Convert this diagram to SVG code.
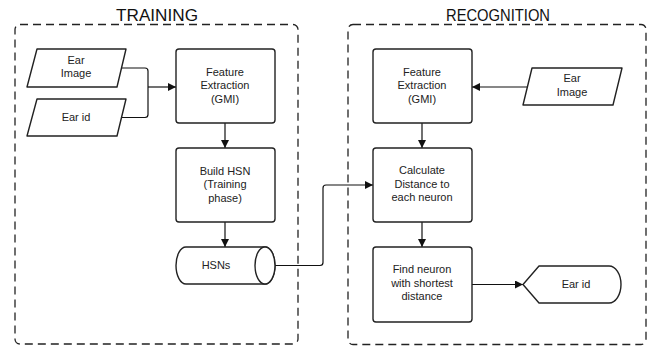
<svg xmlns="http://www.w3.org/2000/svg" width="653" height="347" viewBox="0 0 653 347">
  <style>
    .frame { fill: none; stroke: #222; stroke-width: 1.3; stroke-dasharray: 8 5; }
    .title { font-family: "Liberation Sans", Arial, sans-serif; font-size: 16px; fill: #111; text-anchor: middle; }
    .node { fill: #fff; stroke: #222; stroke-width: 1.4; stroke-linejoin: round; }
    .label { font-family: "Liberation Sans", Arial, sans-serif; font-size: 11px; fill: #222; text-anchor: middle; }
    .edge { fill: none; stroke: #111; stroke-width: 1.2; }
  </style>
  <defs>
    <marker id="arrow" viewBox="0 0 10 10" refX="10" refY="5" markerWidth="8" markerHeight="8" markerUnits="userSpaceOnUse" orient="auto">
      <path d="M0,0 L10,5 L0,10 Z" fill="#111"/>
    </marker>
  </defs>
  <rect width="653" height="347" fill="#fff"/>

  <!-- swimlane frames -->
  <g id="training-frame">
    <rect class="frame" x="15" y="24.5" width="283" height="319.5" rx="5"/>
    <text class="title" x="157" y="21" textLength="82" lengthAdjust="spacingAndGlyphs">TRAINING</text>
  </g>
  <g id="recognition-frame">
    <rect class="frame" x="348" y="24.5" width="298" height="320" rx="5"/>
    <text class="title" x="498" y="21" textLength="104" lengthAdjust="spacingAndGlyphs">RECOGNITION</text>
  </g>

  <!-- connectors -->
  <g id="connectors">
    <path class="edge" d="M121.5,68 H145 Q148,68 148,71 V114.5 Q148,117.5 145,117.5 H121.5"/>
    <path class="edge" d="M148,87 H176" marker-end="url(#arrow)"/>
    <path class="edge" d="M225,123 V148" marker-end="url(#arrow)"/>
    <path class="edge" d="M225,222 V247" marker-end="url(#arrow)"/>
    <path class="edge" d="M275,265.5 H320 Q323,265.5 323,262.5 V188 Q323,185 326,185 H373" marker-end="url(#arrow)"/>
    <path class="edge" d="M527,87 H472" marker-end="url(#arrow)"/>
    <path class="edge" d="M422,123 V148" marker-end="url(#arrow)"/>
    <path class="edge" d="M422,222 V247" marker-end="url(#arrow)"/>
    <path class="edge" d="M472,284.5 H523" marker-end="url(#arrow)"/>
  </g>

  <!-- training nodes -->
  <g id="t-ear-image">
    <path class="node" d="M37,49 H126 L117,87 H27 Z"/>
    <text class="label" x="76" y="64">Ear</text>
    <text class="label" x="76" y="77">Image</text>
  </g>
  <g id="t-ear-id">
    <path class="node" d="M37,99 H126 L117,136 H27 Z"/>
    <text class="label" x="76" y="121">Ear id</text>
  </g>
  <g id="t-feature">
    <rect class="node" x="176" y="49" width="99" height="74" rx="3"/>
    <text class="label" x="225" y="76">Feature</text>
    <text class="label" x="225" y="89">Extraction</text>
    <text class="label" x="225" y="103">(GMI)</text>
  </g>
  <g id="t-build">
    <rect class="node" x="176" y="148" width="99" height="74" rx="3"/>
    <text class="label" x="225" y="175">Build HSN</text>
    <text class="label" x="225" y="188">(Training</text>
    <text class="label" x="225" y="202">phase)</text>
  </g>
  <g id="t-hsns">
    <path class="node" d="M186,247 H265 A10,18.5 0 0 1 265,284 H186 A10,18.5 0 0 1 186,247 Z"/>
    <ellipse class="node" cx="265" cy="265.5" rx="10" ry="18.5"/>
    <text class="label" x="216" y="269">HSNs</text>
  </g>

  <!-- recognition nodes -->
  <g id="r-feature">
    <rect class="node" x="373" y="49" width="99" height="74" rx="3"/>
    <text class="label" x="422" y="76">Feature</text>
    <text class="label" x="422" y="89">Extraction</text>
    <text class="label" x="422" y="103">(GMI)</text>
  </g>
  <g id="r-ear-image">
    <path class="node" d="M532,68 H622 L613,105 H523 Z"/>
    <text class="label" x="572" y="82">Ear</text>
    <text class="label" x="572" y="96">Image</text>
  </g>
  <g id="r-calculate">
    <rect class="node" x="373" y="148" width="99" height="74" rx="3"/>
    <text class="label" x="422" y="174">Calculate</text>
    <text class="label" x="422" y="188">Distance to</text>
    <text class="label" x="422" y="201">each neuron</text>
  </g>
  <g id="r-find">
    <rect class="node" x="373" y="247" width="99" height="75" rx="3"/>
    <text class="label" x="422" y="273">Find neuron</text>
    <text class="label" x="422" y="287">with shortest</text>
    <text class="label" x="422" y="300">distance</text>
  </g>
  <g id="r-ear-id">
    <path class="node" d="M523,284.5 L539,266 H609 A12,18.5 0 0 1 609,303 H539 Z"/>
    <text class="label" x="576" y="288">Ear id</text>
  </g>
</svg>
